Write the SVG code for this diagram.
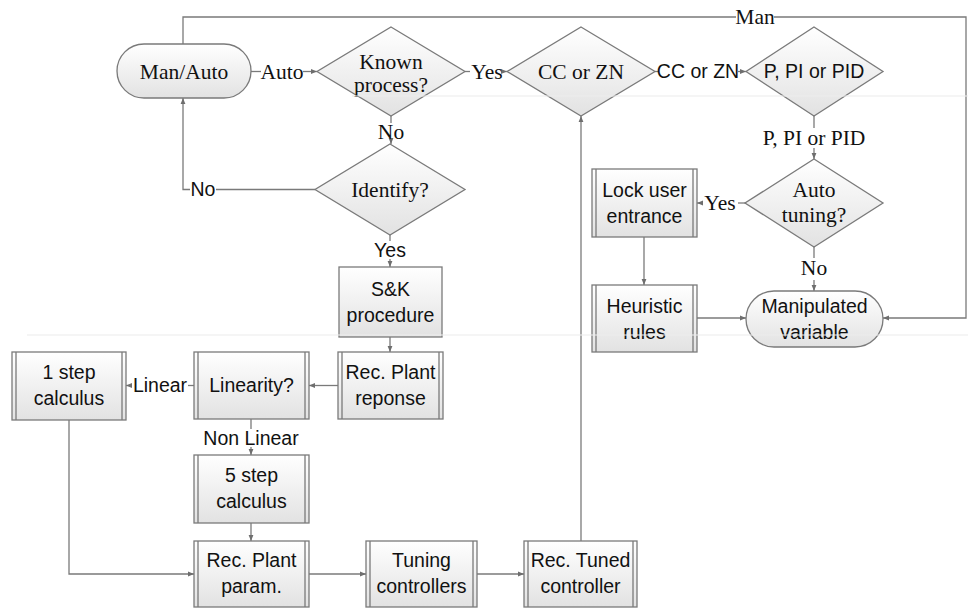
<svg xmlns="http://www.w3.org/2000/svg" width="968" height="608" viewBox="0 0 968 608">
<defs>
<linearGradient id="g" x1="0" y1="0" x2="0" y2="1">
<stop offset="0" stop-color="#ffffff"/>
<stop offset="1" stop-color="#e2e2e2"/>
</linearGradient>
<marker id="a" viewBox="0 0 6 6" refX="6" refY="3" markerWidth="6" markerHeight="6" orient="auto" markerUnits="userSpaceOnUse">
<path d="M0,0.6 L6,3 L0,5.4z" fill="#6e6e6e"/>
</marker>
<style>
.s{fill:url(#g);stroke:#7a7a7a;stroke-width:1.3}
.d{fill:none;stroke:#7a7a7a;stroke-width:1.3}
.c{fill:none;stroke:#7a7a7a;stroke-width:1.3}
.ca{fill:none;stroke:#7a7a7a;stroke-width:1.3;marker-end:url(#a)}
.sf{font-family:"Liberation Serif","Times New Roman",serif;font-size:21.5px;fill:#111;text-anchor:middle}
.ss{font-family:"Liberation Sans",Arial,sans-serif;font-size:19.5px;fill:#111;text-anchor:middle}
.guide{stroke:#ececec;stroke-width:1.5;fill:none}
</style>
</defs>
<rect width="968" height="608" fill="#ffffff"/>

<g id="connectors">
<path class="c" d="M251,71.5 H261"/>
<path class="ca" d="M303,71.5 H317"/>
<path class="c" d="M465,71.5 H470"/>
<path class="ca" d="M503,71.5 H507"/>
<path class="c" d="M655,71.5 H659"/>
<path class="ca" d="M738,71.5 H746"/>
<path class="c" d="M183,44 V17 H736"/>
<path class="ca" d="M774,17 H966 V318 H883"/>
<path class="c" d="M814,116 V128"/>
<path class="ca" d="M814,148 V159"/>
<path class="c" d="M745,203 H738"/>
<path class="ca" d="M702,203 H697"/>
<path class="c" d="M814,247 V258"/>
<path class="ca" d="M814,280 V291"/>
<path class="ca" d="M644,237 V285"/>
<path class="ca" d="M697,318 H746"/>
<path class="c" d="M391,116 V123"/>
<path class="ca" d="M391,140 V144"/>
<path class="c" d="M315,189.5 H216"/>
<path class="ca" d="M190,189.5 H183 V98"/>
<path class="c" d="M390,235 V241"/>
<path class="ca" d="M390,259 V267"/>
<path class="ca" d="M390,337 V352"/>
<path class="ca" d="M338,385.5 H309"/>
<path class="c" d="M194,385.5 H188"/>
<path class="ca" d="M132,385.5 H126"/>
<path class="c" d="M251,419 V429"/>
<path class="ca" d="M251,447 V455"/>
<path class="ca" d="M251,523 V541"/>
<path class="ca" d="M69,420 V574 H194"/>
<path class="ca" d="M309,574 H366"/>
<path class="ca" d="M477,574 H524"/>
<path class="ca" d="M581,541 V116"/>
</g>

<g id="labels">
<text class="sf" x="282" y="79">Auto</text>
<text class="sf" x="487" y="79">Yes</text>
<text class="ss" x="698" y="78">CC or ZN</text>
<text class="sf" x="755" y="24">Man</text>
<text class="sf" x="814" y="145">P, PI or PID</text>
<text class="sf" x="720" y="210">Yes</text>
<text class="sf" x="814" y="275">No</text>
<text class="sf" x="391" y="139">No</text>
<text class="ss" x="203" y="196">No</text>
<text class="ss" x="390" y="257">Yes</text>
<text class="ss" x="160" y="392">Linear</text>
<text class="ss" x="251" y="445">Non Linear</text>
</g>

<g id="man-auto">
<rect class="s" x="117" y="44" width="134" height="54" rx="27"/>
<text class="sf" x="184" y="78.5">Man/Auto</text>
</g>
<g id="known-process">
<path class="s" d="M391,27 L465,71.5 L391,116 L317,71.5z"/>
<text class="sf" x="391" y="69">Known</text>
<text class="sf" x="391" y="92">process?</text>
</g>
<g id="cc-or-zn">
<path class="s" d="M581,27 L655,71.5 L581,116 L507,71.5z"/>
<text class="sf" x="581" y="78.5">CC or ZN</text>
</g>
<g id="p-pi-pid">
<path class="s" d="M814,27 L883,71.5 L814,116 L746,71.5z"/>
<text class="ss" x="814" y="78">P, PI or PID</text>
</g>
<g id="identify">
<path class="s" d="M390,144 L465,189.5 L390,235 L315,189.5z"/>
<text class="sf" x="390" y="197">Identify?</text>
</g>
<g id="auto-tuning">
<path class="s" d="M814,159 L883,203 L814,247 L745,203z"/>
<text class="sf" x="814" y="197">Auto</text>
<text class="sf" x="814" y="222">tuning?</text>
</g>
<g id="lock-user">
<rect class="s" x="592" y="169" width="105" height="68"/>
<path class="d" d="M596,169 V237 M693,169 V237"/>
<text class="ss" x="644.5" y="197">Lock user</text>
<text class="ss" x="644.5" y="223">entrance</text>
</g>
<g id="heuristic">
<rect class="s" x="592" y="285" width="105" height="67"/>
<path class="d" d="M596,285 V352 M693,285 V352"/>
<text class="ss" x="644.5" y="313">Heuristic</text>
<text class="ss" x="644.5" y="339">rules</text>
</g>
<g id="manipulated">
<rect class="s" x="746" y="291" width="137" height="56" rx="28"/>
<text class="ss" x="814.5" y="313">Manipulated</text>
<text class="ss" x="814.5" y="339">variable</text>
</g>
<g id="sk-procedure">
<rect class="s" x="339" y="267" width="103" height="70"/>
<text class="ss" x="390.5" y="296">S&amp;K</text>
<text class="ss" x="390.5" y="322">procedure</text>
</g>
<g id="rec-plant-reponse">
<rect class="s" x="338" y="352" width="105" height="67"/>
<path class="d" d="M342,352 V419 M439,352 V419"/>
<text class="ss" x="390.5" y="379">Rec. Plant</text>
<text class="ss" x="390.5" y="405">reponse</text>
</g>
<g id="linearity">
<rect class="s" x="194" y="352" width="115" height="67"/>
<path class="d" d="M198,352 V419 M305,352 V419"/>
<text class="ss" x="251.5" y="392">Linearity?</text>
</g>
<g id="one-step">
<rect class="s" x="12" y="352" width="114" height="68"/>
<path class="d" d="M16,352 V420 M122,352 V420"/>
<text class="ss" x="69" y="379">1 step</text>
<text class="ss" x="69" y="405">calculus</text>
</g>
<g id="five-step">
<rect class="s" x="194" y="455" width="115" height="68"/>
<path class="d" d="M198,455 V523 M305,455 V523"/>
<text class="ss" x="251.5" y="482">5 step</text>
<text class="ss" x="251.5" y="508">calculus</text>
</g>
<g id="rec-plant-param">
<rect class="s" x="194" y="541" width="115" height="66"/>
<path class="d" d="M198,541 V607 M305,541 V607"/>
<text class="ss" x="251.5" y="567">Rec. Plant</text>
<text class="ss" x="251.5" y="593">param.</text>
</g>
<g id="tuning-controllers">
<rect class="s" x="366" y="541" width="111" height="66"/>
<path class="d" d="M370,541 V607 M473,541 V607"/>
<text class="ss" x="421.5" y="567">Tuning</text>
<text class="ss" x="421.5" y="593">controllers</text>
</g>
<g id="rec-tuned-controller">
<rect class="s" x="524" y="541" width="113" height="66"/>
<path class="d" d="M528,541 V607 M633,541 V607"/>
<text class="ss" x="580.5" y="567">Rec. Tuned</text>
<text class="ss" x="580.5" y="593">controller</text>
</g>

<g id="guides" opacity="0.7">
<path class="guide" d="M352,96 H968"/>
<path class="guide" d="M27,335 H968"/>
</g>
</svg>
